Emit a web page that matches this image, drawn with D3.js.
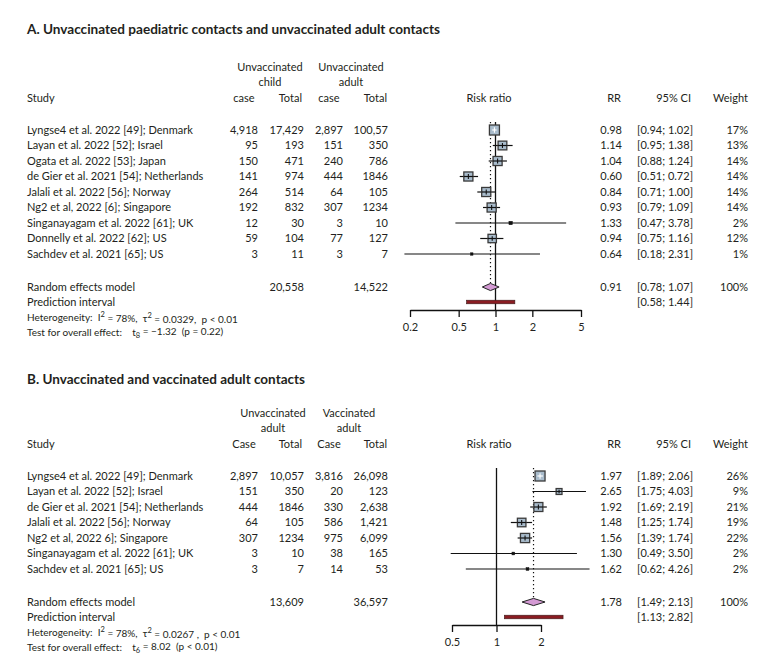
<!DOCTYPE html>
<html><head><meta charset="utf-8">
<script src="https://cdn.jsdelivr.net/npm/d3@7"></script>
<style>
body{margin:0;background:#fff}
text{font-family:Lato,"Open Sans",sans-serif;fill:#231f20}
</style>
</head><body>
<svg id="chart" width="784" height="669"></svg>
<script>
// ---------- Panel A data ----------
const titleA = "A. Unvaccinated paediatric contacts and unvaccinated adult contacts";
const groupHeadA = [["Unvaccinated","child"],["Unvaccinated","adult"]];
const colHeadA = ["case","Total","case","Total"];
const studiesA = ["Lyngse4 et al. 2022 [49]; Denmark","Layan et al. 2022 [52]; Israel","Ogata et al. 2022 [53]; Japan","de Gier et al. 2021 [54]; Netherlands","Jalali et al. 2022 [56]; Norway","Ng2 et al, 2022 [6]; Singapore","Singanayagam et al. 2022 [61]; UK","Donnelly et al. 2022 [62]; US","Sachdev et al. 2021 [65]; US"];
const case1A = ["4,918","95","150","141","264","192","12","59","3"];
const total1A = ["17,429","193","471","974","514","832","30","104","11"];
const case2A = ["2,897","151","240","444","64","307","3","77","3"];
const total2A = ["100,57","350","786","1846","105","1234","10","127","7"];
const rrA = [0.98,1.14,1.04,0.60,0.84,0.93,1.33,0.94,0.64];
const lowA = [0.94,0.95,0.88,0.51,0.71,0.79,0.47,0.75,0.18];
const highA = [1.02,1.38,1.24,0.72,1.00,1.09,3.78,1.16,2.31];
const weightA = [17,13,14,14,14,14,2,12,1];
const pooledA = [0.91,0.78,1.07];
const predA = [0.58,1.44];
const sumTotalsA = ["20,558","14,522"];
const ticksA = [0.2,0.5,1,2,5];
const hetA = {I2:"78%", tau2:"0.0329", p:"p < 0.01", df:"8", t:"\u22121.32", pt:"(p = 0.22)"};

// ---------- Panel B data ----------
const titleB = "B. Unvaccinated and vaccinated adult contacts";
const groupHeadB = [["Unvaccinated","adult"],["Vaccinated","adult"]];
const colHeadB = ["Case","Total","Case","Total"];
const studiesB = ["Lyngse4 et al. 2022 [49]; Denmark","Layan et al. 2022 [52]; Israel","de Gier et al. 2021 [54]; Netherlands","Jalali et al. 2022 [56]; Norway","Ng2 et al, 2022 6]; Singapore","Singanayagam et al. 2022 [61]; UK","Sachdev et al. 2021 [65]; US"];
const case1B = ["2,897","151","444","64","307","3","3"];
const total1B = ["10,057","350","1846","105","1234","10","7"];
const case2B = ["3,816","20","330","586","975","38","14"];
const total2B = ["26,098","123","2,638","1,421","6,099","165","53"];
const rrB = [1.97,2.65,1.92,1.48,1.56,1.30,1.62];
const lowB = [1.89,1.75,1.69,1.25,1.39,0.49,0.62];
const highB = [2.06,4.03,2.19,1.74,1.74,3.50,4.26];
const weightB = [26,9,21,19,22,2,2];
const pooledB = [1.78,1.49,2.13];
const predB = [1.13,2.82];
const sumTotalsB = ["13,609","36,597"];
const ticksB = [0.5,1,2];
const hetB = {I2:"78%", tau2:"0.0267 ", p:"p < 0.01", df:"6", t:"8.02", pt:"(p < 0.01)"};

const svg = d3.select("#chart");
const f2 = d3.format(".2f");
const FS = 11;

function drawPanel(o){
  const g = svg.append("g");
  g.append("text").attr("x",27).attr("y",o.titleY).attr("dy","0.35em")
    .attr("font-weight","bold").attr("font-size",13.5)
    .attr("textLength",o.titleLen).attr("lengthAdjust","spacingAndGlyphs")
    .text(o.title);
  o.groupHead.forEach((gh,i)=>{
    gh.forEach((t,j)=>{
      g.append("text").attr("x",o.groupX[i]).attr("y",o.headY-31+j*15).attr("dy","0.35em")
        .attr("text-anchor","middle").attr("font-size",FS).text(t);
    });
  });
  g.append("text").attr("x",27).attr("y",o.headY).attr("dy","0.35em").attr("font-size",FS).text("Study");
  const colX = [258,304,343,388];
  const colAnchor = ["middle","end","middle","end"];
  const colHX = [244,302,329,387];
  o.colHead.forEach((t,i)=>{
    g.append("text").attr("x",colHX[i]).attr("y",o.headY).attr("dy","0.35em")
      .attr("text-anchor",colAnchor[i]).attr("font-size",FS).text(t);
  });
  g.append("text").attr("x",489).attr("y",o.headY).attr("dy","0.35em").attr("text-anchor","middle").attr("font-size",FS).text("Risk ratio");
  g.append("text").attr("x",621).attr("y",o.headY).attr("dy","0.35em").attr("text-anchor","end").attr("font-size",FS).text("RR");
  g.append("text").attr("x",691).attr("y",o.headY).attr("dy","0.35em").attr("text-anchor","end").attr("font-size",FS).text("95% CI");
  g.append("text").attr("x",748).attr("y",o.headY).attr("dy","0.35em").attr("text-anchor","end").attr("font-size",FS).text("Weight");

  const n = o.studies.length;
  const y = d3.scalePoint().domain(d3.range(n)).range([o.row0, o.row0 + (n-1)*15.5]);
  const x = d3.scaleLog().domain(o.domain).range(o.range);
  const yRE = o.row0 + (n-1)*15.5 + 33;
  const yPI = yRE + 15;
  const yAxis = yPI + 8;

  d3.range(n).forEach(i=>{
    const yy = y(i);
    g.append("text").attr("x",27).attr("y",yy).attr("dy","0.35em").attr("font-size",FS).text(o.studies[i]);
    [o.c1,o.t1,o.c2,o.t2].forEach((arr,k)=>{
      g.append("text").attr("x",colX[k]).attr("y",yy).attr("dy","0.35em").attr("text-anchor","end").attr("font-size",FS).text(arr[i]);
    });
    g.append("text").attr("x",622).attr("y",yy).attr("dy","0.35em").attr("text-anchor","end").attr("font-size",FS).text(f2(o.rr[i]));
    g.append("text").attr("x",693).attr("y",yy).attr("dy","0.35em").attr("text-anchor","end").attr("font-size",FS).text(`[${f2(o.lo[i])}; ${f2(o.hi[i])}]`);
    g.append("text").attr("x",748).attr("y",yy).attr("dy","0.35em").attr("text-anchor","end").attr("font-size",FS).text(o.w[i]+"%");
  });
  g.append("text").attr("x",27).attr("y",yRE).attr("dy","0.35em").attr("font-size",FS).text("Random effects model");
  g.append("text").attr("x",304).attr("y",yRE).attr("dy","0.35em").attr("text-anchor","end").attr("font-size",FS).text(o.sums[0]);
  g.append("text").attr("x",388).attr("y",yRE).attr("dy","0.35em").attr("text-anchor","end").attr("font-size",FS).text(o.sums[1]);
  g.append("text").attr("x",622).attr("y",yRE).attr("dy","0.35em").attr("text-anchor","end").attr("font-size",FS).text(f2(o.pooled[0]));
  g.append("text").attr("x",693).attr("y",yRE).attr("dy","0.35em").attr("text-anchor","end").attr("font-size",FS).text(`[${f2(o.pooled[1])}; ${f2(o.pooled[2])}]`);
  g.append("text").attr("x",748).attr("y",yRE).attr("dy","0.35em").attr("text-anchor","end").attr("font-size",FS).text("100%");
  g.append("text").attr("x",27).attr("y",yPI).attr("dy","0.35em").attr("font-size",FS).text("Prediction interval");
  g.append("text").attr("x",693).attr("y",yPI).attr("dy","0.35em").attr("text-anchor","end").attr("font-size",FS).text(`[${f2(o.pred[0])}; ${f2(o.pred[1])}]`);

  const h = o.het;
  const t1 = g.append("text").attr("x",27).attr("y",yPI+15).attr("dy","0.35em").attr("font-size",10).attr("xml:space","preserve");
  t1.append("tspan").text("Heterogeneity:  I");
  t1.append("tspan").attr("dy","-0.45em").attr("font-size",7.5).text("2");
  t1.append("tspan").attr("dy","0.45em").text(` = ${h.I2},  \u03c4`);
  t1.append("tspan").attr("dy","-0.45em").attr("font-size",7.5).text("2");
  t1.append("tspan").attr("dy","0.45em").text(` = ${h.tau2},  ${h.p}`);
  const t2 = g.append("text").attr("x",27).attr("y",yPI+30.5).attr("dy","0.35em").attr("font-size",10).attr("xml:space","preserve");
  t2.append("tspan").text("Test for overall effect:    t");
  t2.append("tspan").attr("dy","0.3em").attr("font-size",7.5).text(h.df);
  t2.append("tspan").attr("dy","-0.3em").text(` = ${h.t}  ${h.pt}`);

  const topY = o.row0 - 8;
  g.append("line").attr("x1",x(1)).attr("x2",x(1)).attr("y1",topY).attr("y2",yAxis)
    .attr("stroke","#111").attr("stroke-width",1.3);
  g.append("line").attr("x1",x(o.pooled[0])).attr("x2",x(o.pooled[0])).attr("y1",topY).attr("y2",yRE-4)
    .attr("stroke","#111").attr("stroke-width",1.2).attr("stroke-dasharray","1.2,2.8");

  const wmax = d3.max(o.w);
  d3.range(n).forEach(i=>{
    const yy = y(i);
    const s = 10*Math.sqrt(o.w[i]/wmax);
    const cx = x(o.rr[i]);
    const xl = x(o.lo[i]), xh = x(o.hi[i]);
    const inside = (xl >= cx - s/2) && (xh <= cx + s/2);
    if(!inside){
      g.append("line").attr("x1",xl).attr("x2",xh).attr("y1",yy).attr("y2",yy).attr("stroke","#111").attr("stroke-width",1.2);
    }
    const small = s < 4.5;
    g.append("rect").attr("x",cx-s/2).attr("y",yy-s/2).attr("width",s).attr("height",s)
      .attr("fill", small ? "#111" : "#a9bccc").attr("stroke", small ? "#111" : "#3a3a3a").attr("stroke-width", small?0.5:1.3);
    if(!small){
      const col = inside ? "#fff" : "#111";
      g.append("line").attr("x1",inside?xl:Math.max(xl,cx-s/2)).attr("x2",inside?xh:Math.min(xh,cx+s/2)).attr("y1",yy).attr("y2",yy).attr("stroke",col).attr("stroke-width",1.2);
      g.append("line").attr("x1",cx).attr("x2",cx).attr("y1",yy-s*0.28).attr("y2",yy+s*0.28).attr("stroke",col).attr("stroke-width",1.1);
    }
  });

  const dh = 3.6;
  g.append("path").attr("d",`M${x(o.pooled[1])},${yRE} L${x(o.pooled[0])},${yRE-dh} L${x(o.pooled[2])},${yRE} L${x(o.pooled[0])},${yRE+dh} Z`)
    .attr("fill","#d49ad4").attr("stroke","#222").attr("stroke-width",1);
  g.append("rect").attr("x",x(o.pred[0])).attr("y",yPI-1.8).attr("width",x(o.pred[1])-x(o.pred[0])).attr("height",3.6)
    .attr("fill","#8a1c22").attr("stroke","#3a1a1a").attr("stroke-width",0.6);

  const ax = d3.axisBottom(x).tickValues(o.ticks).tickFormat(d3.format("")).tickSize(7).tickSizeOuter(0);
  const ag = g.append("g").attr("transform",`translate(0,${yAxis})`).call(ax);
  ag.select(".domain").attr("stroke","#111").attr("stroke-width",1.3);
  ag.selectAll(".tick line").attr("stroke","#111").attr("stroke-width",1.3);
  ag.selectAll(".tick text").attr("font-size",FS).attr("font-family","Lato,'Open Sans',sans-serif").attr("fill","#231f20").attr("y",17).attr("dy","0.35em");
}

drawPanel({title:titleA,titleY:29,titleLen:413,groupHead:groupHeadA,groupX:[270,351],colHead:colHeadA,headY:98,
  studies:studiesA,c1:case1A,t1:total1A,c2:case2A,t2:total2A,rr:rrA,lo:lowA,hi:highA,w:weightA,
  pooled:pooledA,pred:predA,sums:sumTotalsA,ticks:ticksA,het:hetA,row0:130,domain:[0.2,5],range:[410,581]});
drawPanel({title:titleB,titleY:379,titleLen:278,groupHead:groupHeadB,groupX:[273,349],colHead:colHeadB,headY:444,
  studies:studiesB,c1:case1B,t1:total1B,c2:case2B,t2:total2B,rr:rrB,lo:lowB,hi:highB,w:weightB,
  pooled:pooledB,pred:predB,sums:sumTotalsB,ticks:ticksB,het:hetB,row0:476,domain:[0.5,2],range:[452,541]});
</script>
</body></html>
